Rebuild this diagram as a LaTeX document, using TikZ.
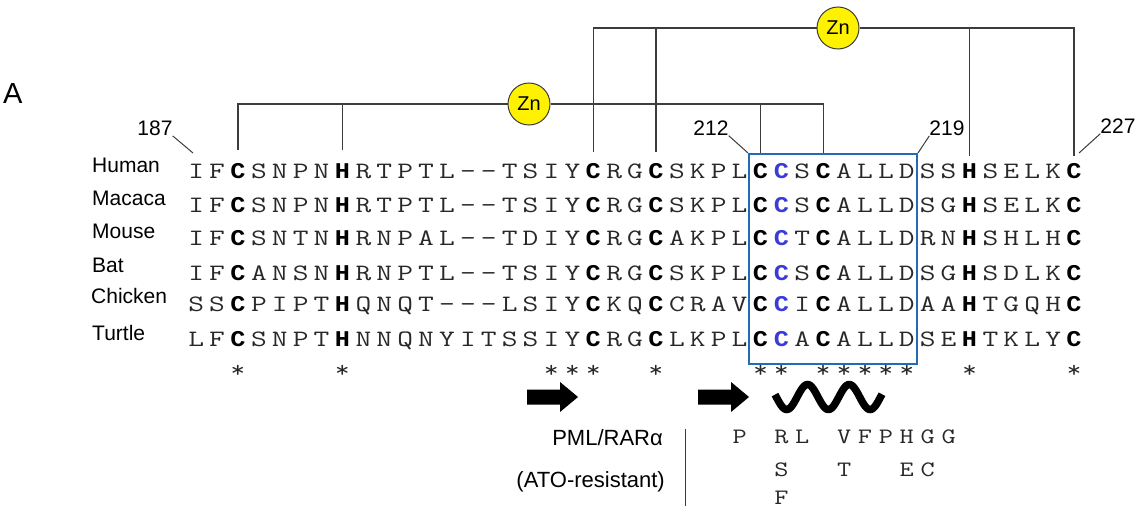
\documentclass[tikz,border=0pt]{standalone}
\usepackage{fontspec}
\setmainfont{Liberation Sans}
\newfontfamily\seqbf{Liberation Mono}
\usepackage{graphicx}
\definecolor{boxblue}{RGB}{31,110,180}
\definecolor{cblue}{RGB}{59,59,217}
\definecolor{lgray}{RGB}{60,60,60}
\definecolor{seqgray}{RGB}{40,40,40}
\makeatletter
\newcommand\seqstyle[1]{\edef\seq@tmp{\noexpand\in@{,#1,}{,3,8,20,23,28,29,31,38,43,}}\seq@tmp
  \ifin@\seqbf\bfseries\fontsize{22.5}{26}\selectfont\color{black}\def\sx{1.12}\else\def\sx{1.3}\fi
  \ifnum#1=29 \color{cblue}\fi}
\makeatother
\def\sx{1.3}
\newcommand\colx[1]{175.3+#1*20.9}
\begin{document}
\begin{tikzpicture}[x=1pt,y=-1pt,
 lbl/.style={font=\fontsize{21}{24}\selectfont, inner sep=0, anchor=base west},
 lbl2/.style={font=\fontsize{22}{24}\selectfont, inner sep=0, anchor=base east},
 num/.style={font=\fontsize{21}{24}\selectfont, inner sep=0, anchor=base},
 seqch/.style={font=\fontsize{23.5}{26}\selectfont\ttfamily, text=seqgray, inner sep=0, anchor=base},
 mutch/.style={font=\fontsize{22}{24}\selectfont\ttfamily, text=seqgray, inner sep=0, anchor=base},
 bline/.style={draw=lgray, line width=1.3pt},
 lead/.style={draw=lgray, line width=1pt},
 zn/.style={circle, draw=lgray, fill=yellow, line width=1pt, minimum size=42pt, inner sep=0, font=\fontsize{20}{22}\selectfont},
]
\useasboundingbox (0,0) rectangle (1142,508);

% panel letter
\node[font=\fontsize{29}{32}\selectfont, anchor=base west, inner sep=0] (A) at (3,103) {A};

% species labels
\node[lbl] (lHuman) at (92,172) {Human};
\node[lbl] (lMacaca) at (92,205) {Macaca};
\node[lbl] (lMouse) at (92,238) {Mouse};
\node[lbl] (lBat) at (92,272) {Bat};
\node[lbl] (lChicken) at (91,303) {Chicken};
\node[lbl] (lTurtle) at (92,340) {Turtle};

% sequences
\foreach \r/\y/\s in {
 1/178/{I,F,C,S,N,P,N,H,R,T,P,T,L,-,-,T,S,I,Y,C,R,G,C,S,K,P,L,C,C,S,C,A,L,L,D,S,S,H,S,E,L,K,C},
 2/212/{I,F,C,S,N,P,N,H,R,T,P,T,L,-,-,T,S,I,Y,C,R,G,C,S,K,P,L,C,C,S,C,A,L,L,D,S,G,H,S,E,L,K,C},
 3/245/{I,F,C,S,N,T,N,H,R,N,P,A,L,-,-,T,D,I,Y,C,R,G,C,A,K,P,L,C,C,T,C,A,L,L,D,R,N,H,S,H,L,H,C},
 4/280/{I,F,C,A,N,S,N,H,R,N,P,T,L,-,-,T,S,I,Y,C,R,G,C,S,K,P,L,C,C,S,C,A,L,L,D,S,G,H,S,D,L,K,C},
 5/311/{S,S,C,P,I,P,T,H,Q,N,Q,T,-,-,-,L,S,I,Y,C,K,Q,C,C,R,A,V,C,C,I,C,A,L,L,D,A,A,H,T,G,Q,H,C},
 6/346/{L,F,C,S,N,P,T,H,N,N,Q,N,Y,I,T,S,S,I,Y,C,R,G,C,L,K,P,L,C,C,A,C,A,L,L,D,S,E,H,T,K,L,Y,C}}{
  \foreach \c [count=\i] in \s {
    \node[seqch, name=s\r-\i] at ({\colx{\i}}, \y) {\seqstyle{\i}\scalebox{\sx}[1]{\c}};
  }
}

% conservation stars
\foreach \i in {3,8,18,19,20,23,28,29,31,32,33,34,35,38,43}{
  \node[seqch, name=st\i] at ({\colx{\i}}, 377) {\scalebox{1.2}[1]{*}};
}

% blue box
\node[draw=boxblue, line width=2pt, minimum width=168pt, minimum height=210pt, inner sep=0, anchor=north west] (box) at (748,153) {};

% numbers
\node[num] (n187) at (155,135.5) {187};
\node[num] (n212) at (711,135.5) {212};
\node[num] (n219) at (947,135.5) {219};
\node[num] (n227) at (1118,133.5) {227};
\coordinate (e187) at (193,153);
\coordinate (e227) at (1079,153);
\draw[lead] (n187.south east) -- (e187);
\draw[lead] (n212.south east) -- (box.north west);
\draw[lead] (n219.south west) -- (box.north east);
\draw[lead] (n227.south west) -- (e227);

% zinc brackets
\node[zn] (zn1) at (529,104) {Zn};
\node[zn] (zn2) at (838,28) {Zn};
\coordinate (b3) at ({\colx{3}},150);
\coordinate (b8) at ({\colx{8}},150);
\coordinate (b20) at ({\colx{20}},152);
\coordinate (b23) at ({\colx{23}},152);
\coordinate (b28) at ({\colx{28}},153);
\coordinate (b31) at ({\colx{31}},153);
\coordinate (b38) at ({\colx{38}},156);
\coordinate (b43) at ({\colx{43}},156);
\draw[bline] (b3) |- (zn1.west);
\draw[bline] (zn1.east) -| (b31);
\draw[bline] (b8) -- (b8 |- zn1.center);
\draw[bline] (b28) -- (b28 |- zn1.center);
\draw[bline] (b20) |- (zn2.west);
\draw[bline] (zn2.east) -| (b43);
\draw[bline] (b23) -- (b23 |- zn2.center);
\draw[bline] (b38) -- (b38 |- zn2.center);

% secondary structure
\fill (527,389.5) -- (560,389.5) -- (560,382) -- (578,397) -- (560,412) -- (560,404.5) -- (527,404.5) -- cycle;
\fill (698,389.5) -- (731,389.5) -- (731,382) -- (749,397) -- (731,412) -- (731,404.5) -- (698,404.5) -- cycle;
\draw[line width=7.5pt] plot[domain=775:882, samples=120, smooth] (\x, {397+12.5*cos((\x-786.7)*8.633)});

% PML/RARa mutations
\node[lbl2] (pml) at (663,445) {PML/RARα};
\node[lbl2] (ato) at (665,487) {(ATO-resistant)};
\coordinate (v1) at (685,429);
\coordinate (v2) at (685,506);
\draw[lead] (v1) -- (v2);
\foreach \i/\c in {27/P,29/R,30/L,32/V,33/F,34/P,35/H,36/G,37/G}{
  \node[mutch, name=m1-\i] at ({\colx{\i}}, 443) {\scalebox{1.25}[1]{\c}};
}
\foreach \i/\c in {29/S,32/T,35/E,36/C}{
  \node[mutch, name=m2-\i] at ({\colx{\i}}, 476) {\scalebox{1.25}[1]{\c}};
}
\node[mutch, name=m3-29] at ({\colx{29}}, 504) {\scalebox{1.25}[1]{F}};
\end{tikzpicture}
\end{document}
